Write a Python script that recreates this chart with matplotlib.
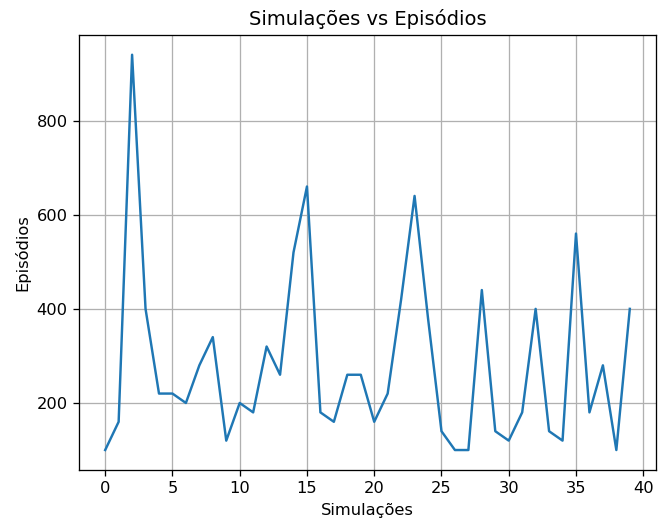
import matplotlib
matplotlib.use("Agg")
import matplotlib.pyplot as plt

# Episódios por simulação
simulacoes = list(range(40))
episodios = [100, 160, 940, 400, 220, 220, 200, 280, 340, 120,
             200, 180, 320, 260, 520, 660, 180, 160, 260, 260,
             160, 220, 420, 640, 380, 140, 100, 100, 440, 140,
             120, 180, 400, 140, 120, 560, 180, 280, 100, 400]

DPI = 117
fig, ax = plt.subplots(figsize=(658 / DPI, 522 / DPI), dpi=DPI)
ax.plot(simulacoes, episodios)
ax.set_title("Simulações vs Episódios")
ax.set_xlabel("Simulações")
ax.set_ylabel("Episódios")
ax.grid(True)

fig.subplots_adjust(left=0.12, right=0.997, top=0.933, bottom=0.1)
fig.savefig("out.png", dpi=DPI)
